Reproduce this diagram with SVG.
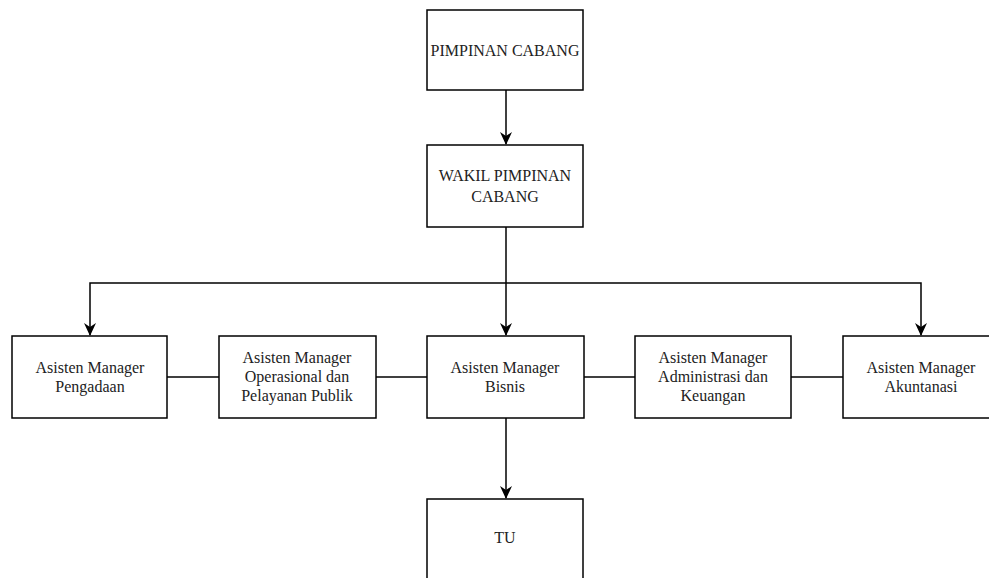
<svg xmlns="http://www.w3.org/2000/svg" width="989" height="578" viewBox="0 0 989 578">
<style>
.box{fill:#fff;stroke:#000;stroke-width:1.5}
.lbl{font-family:"Liberation Serif","Times New Roman",serif;font-size:16px;fill:#222;text-anchor:middle}
.ln{fill:none;stroke:#000;stroke-width:1.5}
</style>
<defs>
<marker id="arr" markerWidth="12" markerHeight="14" refX="6" refY="13" orient="auto" markerUnits="userSpaceOnUse" viewBox="0 0 12 14">
<path d="M0,0 L6,3 L12,0 L6,13 Z" fill="#000" transform="rotate(0)"/>
</marker>
</defs>
<rect width="989" height="578" fill="#fff"/>
<g id="connectors">
<path class="ln" d="M506,90 V144"/>
<path class="ln" d="M506,227 V335"/>
<path class="ln" d="M506,283 H90 V335"/>
<path class="ln" d="M506,283 H921 V335"/>
<path class="ln" d="M506,418 V498"/>
<path class="ln" d="M167,377 H219"/>
<path class="ln" d="M376,377 H427"/>
<path class="ln" d="M584,377 H635"/>
<path class="ln" d="M791,377 H843"/>
<path d="M500,132 L506,136 L512,132 L506,145 Z"/>
<path d="M500,323 L506,327 L512,323 L506,336 Z"/>
<path d="M84,323 L90,327 L96,323 L90,336 Z"/>
<path d="M915,323 L921,327 L927,323 L921,336 Z"/>
<path d="M500,486 L506,490 L512,486 L506,499 Z"/>
</g>
<g id="pimpinan">
<rect class="box" x="427" y="10" width="156" height="80"/>
<text class="lbl" x="505" y="56">PIMPINAN CABANG</text>
</g>
<g id="wakil">
<rect class="box" x="427" y="145" width="156" height="82"/>
<text class="lbl" x="505" y="181">WAKIL PIMPINAN</text>
<text class="lbl" x="505" y="202">CABANG</text>
</g>
<g id="pengadaan">
<rect class="box" x="12" y="336" width="155" height="82"/>
<text class="lbl" x="90" y="373">Asisten Manager</text>
<text class="lbl" x="90" y="392">Pengadaan</text>
</g>
<g id="operasional">
<rect class="box" x="219" y="336" width="157" height="82"/>
<text class="lbl" x="297" y="363">Asisten Manager</text>
<text class="lbl" x="297" y="382">Operasional dan</text>
<text class="lbl" x="297" y="401">Pelayanan Publik</text>
</g>
<g id="bisnis">
<rect class="box" x="427" y="336" width="157" height="82"/>
<text class="lbl" x="505" y="373">Asisten Manager</text>
<text class="lbl" x="505" y="392">Bisnis</text>
</g>
<g id="administrasi">
<rect class="box" x="635" y="336" width="156" height="82"/>
<text class="lbl" x="713" y="363">Asisten Manager</text>
<text class="lbl" x="713" y="382">Administrasi dan</text>
<text class="lbl" x="713" y="401">Keuangan</text>
</g>
<g id="akuntanasi">
<rect class="box" x="843" y="336" width="156" height="82"/>
<text class="lbl" x="921" y="373">Asisten Manager</text>
<text class="lbl" x="921" y="392">Akuntanasi</text>
</g>
<g id="tu">
<rect class="box" x="427" y="499" width="156" height="90"/>
<text class="lbl" x="505" y="543">TU</text>
</g>
</svg>
